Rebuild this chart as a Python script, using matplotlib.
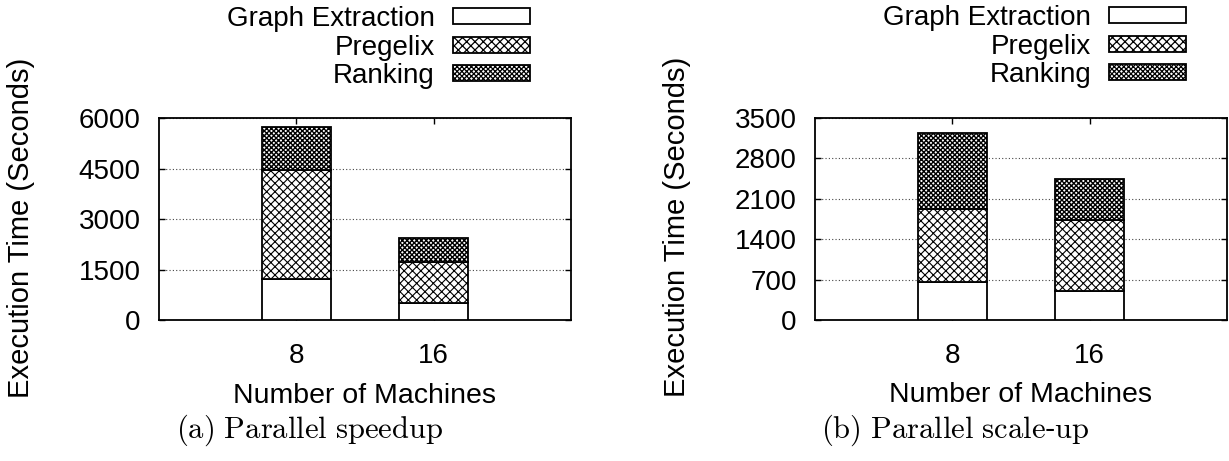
import matplotlib
matplotlib.use('Agg')
import matplotlib.pyplot as plt

plt.rcParams['font.family'] = ['Liberation Sans', 'DejaVu Sans']
plt.rcParams['mathtext.fontset'] = 'cm'
plt.rcParams['hatch.linewidth'] = 0.9
plt.rcParams['hatch.color'] = 'black'

# execution time breakdown (seconds) per cluster size
machines = ['8', '16']
stages = ['Graph Extraction', 'Pregelix', 'Ranking']
hatches = ['', 'xxxx', 'xxxxxxx']
hatch_widths = [0.9, 0.8, 1.0]

speedup_extract = [1220, 530]
speedup_pregelix = [3250, 1210]
speedup_ranking = [1260, 720]

scaleup_extract = [670, 510]
scaleup_pregelix = [1250, 1220]
scaleup_ranking = [1310, 710]

panels = [
    dict(parts=[speedup_extract, speedup_pregelix, speedup_ranking],
         ymax=6000, ystep=1500, rect=[0.1291, 0.3048, 0.3357, 0.4386],
         caption=r'$\mathrm{(a)\ Parallel\ speedup}$', cap_x=0.252),
    dict(parts=[scaleup_extract, scaleup_pregelix, scaleup_ranking],
         ymax=3500, ystep=700, rect=[0.6629, 0.3052, 0.3357, 0.4395],
         caption=r'$\mathrm{(b)\ Parallel\ scale}$-$\mathrm{up}$', cap_x=0.777),
]

fig = plt.figure(figsize=(12.29, 4.61), dpi=100)

for p in panels:
    ax = fig.add_axes(p['rect'])
    x = list(range(len(machines)))
    bottom = [0] * len(machines)
    handles = []
    for name, vals, h, hw in zip(stages, p['parts'], hatches, hatch_widths):
        bars = ax.bar(x, vals, width=0.5, bottom=bottom, color='white',
                      edgecolor='black', linewidth=1.3, hatch=h,
                      label=name, zorder=3)
        for patch in bars:
            if hasattr(patch, 'set_hatch_linewidth'):
                patch.set_hatch_linewidth(hw)
        handles.append(bars)
        bottom = [b + v for b, v in zip(bottom, vals)]

    ax.set_xlim(-1, 2)
    ax.set_ylim(0, p['ymax'])
    ax.set_xticks(x)
    ax.set_xticklabels(machines)
    ax.set_yticks(range(0, p['ymax'] + 1, p['ystep']))
    ax.tick_params(direction='in', top=True, right=True, length=4,
                   width=1.0, labelsize=20)
    ax.tick_params(axis='y', pad=13)
    ax.tick_params(axis='x', pad=16)
    for s in ax.spines.values():
        s.set_linewidth(1.3)
    ax.yaxis.grid(True, linestyle=(0, (1, 2)), color='#444444',
                  linewidth=0.8, zorder=0)
    ax.set_axisbelow(True)

    ax.set_ylabel('Execution Time (Seconds)', fontsize=21)
    ax.yaxis.set_label_coords(-0.30, 0.46)
    ax.set_xlabel('Number of Machines', fontsize=20.5, labelpad=10)

    leg = ax.legend(handles=handles, loc='upper right',
                    bbox_to_anchor=(0.90, 1.555), frameon=False,
                    markerfirst=False, fontsize=20, handlelength=2.77,
                    handleheight=0.5, handletextpad=0.65, labelspacing=0.09,
                    borderpad=0, borderaxespad=0)
    for t in leg.get_texts():
        t.set_ha('right')

    fig.text(p['cap_x'], 0.05, p['caption'], fontsize=22, ha='center',
             va='baseline')

fig.savefig('out.png', dpi=100)
